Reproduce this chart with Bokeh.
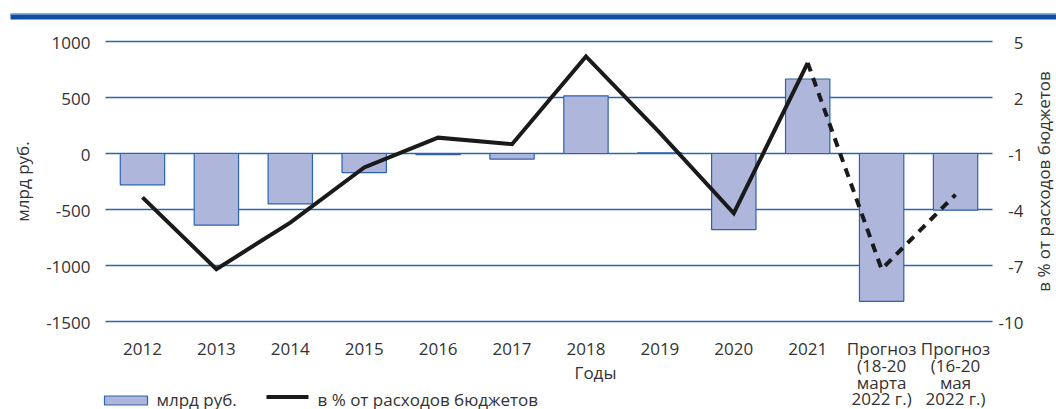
import math
from bokeh.plotting import figure
from bokeh.models import ColumnDataSource, Range1d
from bokeh.core.properties import value
from bokeh.embed import file_html
from bokeh.resources import INLINE

# ---- data ----
categories = ["2012", "2013", "2014", "2015", "2016", "2017", "2018", "2019", "2020", "2021",
              "Прогноз\n(18-20\nмарта\n2022 г.)", "Прогноз\n(16-20\nмая\n2022 г.)"]
bn_rub = [-280, -640, -450, -170, -10, -50, 515, 5, -680, 665, -1320, -505]
pct_spending = [-3.35, -7.2, -4.7, -1.75, -0.15, -0.5, 4.2, 0.1, -4.2, 3.85, -7.2, -3.2]
n_actual = 10  # first 10 points are actual (solid), the rest forecasts (dashed)
left_ticks = [-1500, -1000, -500, 0, 500, 1000]
right_ticks = [-10, -7, -4, -1, 2, 5]
bar_label = "млрд руб."
line_label = "в % от расходов бюджетов"
x_title = "Годы"

# ---- layout (canvas pixels) ----
W, H = 1056, 409
PL, PR, PT, PB = 105, 992, 41, 321
FONT = "Open Sans"
TXT = "#333333"
FS = "17px"
LINE_H = 16.8
DY = -5  # baseline correction of the svg text renderer
LEG_Y = 403.5

n = len(categories)
kx = (PR - PL) / n
lmin, lmax = left_ticks[0], left_ticks[-1]
rmin, rmax = right_ticks[0], right_ticks[-1]
ky = (PB - PT) / (lmax - lmin)
kr = (PB - PT) / (rmax - rmin)

def X(px):
    return (px - PL) / kx

def Y(py):
    return lmax + (PT - py) / ky

def YT(py):  # text baseline position
    return Y(py + DY)

p = figure(width=W, height=H,
           x_range=Range1d(X(0), X(W)), y_range=Range1d(Y(H), Y(0)),
           output_backend="svg", toolbar_location=None,
           x_axis_location=None, y_axis_location=None, min_border=0)
p.extra_y_ranges = {"pct": Range1d(rmin - (H - PB) / kr, rmax + PT / kr)}
p.outline_line_color = None
p.grid.visible = False
p.background_fill_color = "white"
p.border_fill_color = "white"

def txt(**kw):
    base = dict(text_font=value(FONT), text_font_size=value(FS), text_color=TXT)
    base.update(kw)
    return base

# top decorative rule
p.quad(left=X(10), right=X(W), top=Y(13), bottom=Y(19), fill_color="#0E4D9F", line_color=None)
p.quad(left=X(10), right=X(W), top=Y(13), bottom=Y(14.2), fill_color="#8AAED9", line_color=None)

# gridlines
p.segment(x0=[0] * len(left_ticks), x1=[n] * len(left_ticks), y0=left_ticks, y1=left_ticks,
          line_color="#2E63B0", line_width=1.3)

xc = [i + 0.5 for i in range(n)]

# bars
bar_src = ColumnDataSource(dict(x=xc, top=bn_rub))
p.vbar(x="x", top="top", bottom=0, width=0.6, source=bar_src,
       fill_color="#AEB7DB", line_color="#2F62AE", line_width=1.2)

# line: solid for actual, dashed for forecasts
p.line(x=xc[:n_actual], y=pct_spending[:n_actual], y_range_name="pct",
       line_color="#1A1A1A", line_width=4, line_join="miter")
p.line(x=xc[n_actual - 1:], y=pct_spending[n_actual - 1:], y_range_name="pct",
       line_color="#1A1A1A", line_width=4, line_dash="9 7", line_join="miter")

# left tick labels (right aligned at x=90)
p.text(x=[X(90)] * len(left_ticks), y=[YT(PT + (lmax - t) * ky + 6) for t in left_ticks],
       text=[str(t) for t in left_ticks],
       **txt(text_align="right", text_baseline="alphabetic"))

# right tick labels (right aligned at x=1023)
p.text(x=[X(1023)] * len(right_ticks), y=[YT(PT + (rmax - t) * kr + 6) for t in right_ticks],
       text=[str(t) for t in right_ticks],
       **txt(text_align="right", text_baseline="alphabetic"))

# category labels (multi-line)
lx, ly, lt = [], [], []
for i, c in enumerate(categories):
    for k, part in enumerate(c.split("\n")):
        lx.append(xc[i])
        ly.append(YT(353 + k * LINE_H))
        lt.append(part)
p.text(x=lx, y=ly, text=lt, **txt(text_align="center", text_baseline="alphabetic"))

# axis titles
p.text(x=[X(595)], y=[YT(377)], text=[x_title],
       **txt(text_align="center", text_baseline="alphabetic"))
p.text(x=[X(22)], y=[Y((PT + PB) / 2)], text=[bar_label], angle=math.pi / 2,
       **txt(text_align="center", text_baseline="middle"))
p.text(x=[X(1043)], y=[Y((PT + PB) / 2)], text=[line_label], angle=math.pi / 2,
       **txt(text_align="center", text_baseline="middle"))

# legend at the bottom
p.quad(left=X(104), right=X(147), top=Y(LEG_Y - 8), bottom=Y(LEG_Y + 1),
       fill_color="#AEB7DB", line_color="#2F62AE", line_width=1.2)
p.segment(x0=X(266), x1=X(308), y0=Y(LEG_Y - 7), y1=Y(LEG_Y - 7),
          line_color="#1A1A1A", line_width=4)
p.text(x=[X(156), X(317)], y=[YT(LEG_Y), YT(LEG_Y)], text=[bar_label, line_label],
       **txt(text_align="left", text_baseline="alphabetic"))

open("out.html", "w").write(file_html(p, INLINE))
